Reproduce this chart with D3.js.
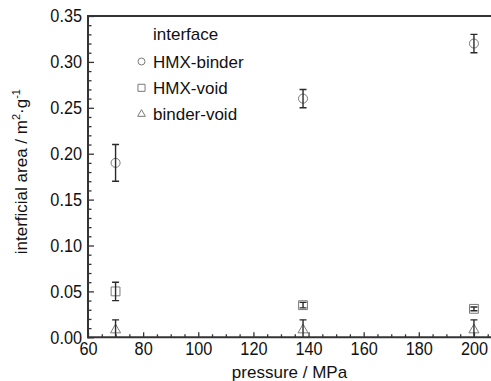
<!DOCTYPE html>
<html><head><meta charset="utf-8">
<script src="https://cdn.jsdelivr.net/npm/d3@7"></script>
<style>
html,body{margin:0;padding:0;background:#fff;}
svg{display:block;font-family:"Liberation Sans",Arial,sans-serif;}
</style></head>
<body><svg id="c" width="491" height="381"></svg>
<script>
// Data
const seriesNames = ["HMX-binder", "HMX-void", "binder-void"];
const pressures = [70, 138, 200];
const hmxBinder = [0.19, 0.26, 0.32];
const hmxBinderErr = [0.02, 0.01, 0.01];
const hmxVoid = [0.05, 0.035, 0.031];
const hmxVoidErr = [0.01, 0.003, 0.002];
const binderVoid = [0.008, 0.008, 0.008];
const binderVoidErr = [0.011, 0.011, 0.011];
const xTicks = [60, 80, 100, 120, 140, 160, 180, 200];
const yTicks = [0.00, 0.05, 0.10, 0.15, 0.20, 0.25, 0.30, 0.35];

const svg = d3.select("#c");
const L = 88, T = 16, B = 337.3, R = 496;
const x = d3.scaleLinear().domain([60, 208]).range([L, R]);
const y = d3.scaleLinear().domain([0, 0.35]).range([B, T]);
const axisColor = "#333";

const series = [
  {name: seriesNames[0], vals: hmxBinder, errs: hmxBinderErr, sym: d3.symbolCircle, size: 64, lsize: 38},
  {name: seriesNames[1], vals: hmxVoid, errs: hmxVoidErr, sym: d3.symbolSquare, size: 78, lsize: 50},
  {name: seriesNames[2], vals: binderVoid, errs: binderVoidErr, sym: d3.symbolTriangle, size: 44, lsize: 26}
];

// clip
svg.append("defs").append("clipPath").attr("id","clip")
  .append("rect").attr("x", L).attr("y", 0).attr("width", R - L).attr("height", B - 0);

const data = svg.append("g").attr("clip-path","url(#clip)");
series.forEach(s => {
  const pts = pressures.map((p,i) => ({p, v: s.vals[i], e: s.errs[i]}));
  const g = data.append("g");
  g.selectAll("path.m").data(pts).enter().append("path")
    .attr("transform", d => `translate(${x(d.p)},${y(d.v)})`)
    .attr("d", d3.symbol().type(s.sym).size(s.size))
    .attr("fill","none").attr("stroke","#7a7a7a").attr("stroke-width",1);
  const eb = g.selectAll("g.e").data(pts).enter().append("g")
    .attr("stroke","#2a2a2a").attr("stroke-width",1.4).attr("fill","none");
  eb.append("line").attr("x1", d=>x(d.p)).attr("x2", d=>x(d.p))
    .attr("y1", d=>y(d.v+d.e)).attr("y2", d=>y(d.v-d.e));
  eb.append("line").attr("x1", d=>x(d.p)-3.5).attr("x2", d=>x(d.p)+3.5)
    .attr("y1", d=>y(d.v+d.e)).attr("y2", d=>y(d.v+d.e));
  eb.append("line").attr("x1", d=>x(d.p)-3.5).attr("x2", d=>x(d.p)+3.5)
    .attr("y1", d=>y(d.v-d.e)).attr("y2", d=>y(d.v-d.e));
});

// axes
const yMinor = d3.range(0, 0.3501, 0.01).filter(v => Math.abs(Math.round(v*20) - v*20) > 1e-6);
const xMinor = d3.range(60, 208, 5).filter(v => v % 20 !== 0);

const gy = svg.append("g").attr("transform", `translate(${L},0)`);
gy.call(d3.axisLeft(y).tickValues(yTicks).tickFormat(d3.format(".2f"))
  .tickSizeInner(-6).tickSizeOuter(0).tickPadding(6));
gy.append("g").call(d3.axisLeft(y).tickValues(yMinor).tickFormat("").tickSizeInner(-3.5).tickSizeOuter(0))
  .select(".domain").remove();
gy.selectAll(".domain").remove();
gy.selectAll("line").attr("stroke", axisColor).attr("stroke-width", 1.3);
gy.selectAll("text").attr("fill","#111").style("font-size","18.5px")
  .attr("x", -6/0.88).attr("transform","scale(0.88,1)");

const gx = svg.append("g").attr("transform", `translate(0,${B})`);
gx.call(d3.axisBottom(x).tickValues(xTicks).tickFormat(d3.format("d"))
  .tickSizeInner(-5).tickSizeOuter(0).tickPadding(4));
gx.append("g").call(d3.axisBottom(x).tickValues(xMinor).tickFormat("").tickSizeInner(-3).tickSizeOuter(0))
  .select(".domain").remove();
gx.selectAll(".domain").remove();
gx.selectAll("line").attr("stroke", axisColor).attr("stroke-width", 1.3);
gx.selectAll(".tick").each(function(d){
  d3.select(this).select("text")
    .attr("transform", "scale(0.88,1)")
    .attr("dy", "0.71em");
});
gx.selectAll("text").attr("fill","#111").style("font-size","18.5px").attr("y", 5);

// spines
svg.append("line").attr("x1", L).attr("x2", L).attr("y1", T).attr("y2", B+1)
  .attr("stroke", axisColor).attr("stroke-width", 2);
svg.append("line").attr("x1", L-1).attr("x2", 491).attr("y1", B).attr("y2", B)
  .attr("stroke", axisColor).attr("stroke-width", 2);
svg.append("line").attr("x1", L-1).attr("x2", 491).attr("y1", T).attr("y2", T)
  .attr("stroke", axisColor).attr("stroke-width", 2);

// axis titles
svg.append("text").attr("x", (L + 491)/2).attr("y", 378).attr("text-anchor","middle")
  .style("font-size","17px").attr("fill","#111").text("pressure / MPa");
const yt = svg.append("text").attr("transform", `translate(27,${(T+B)/2 - 5}) rotate(-90)`)
  .attr("text-anchor","middle").style("font-size","17px").attr("fill","#111");
yt.append("tspan").text("interficial area / m");
yt.append("tspan").attr("dy", -7).style("font-size","11px").text("2");
yt.append("tspan").attr("dy", 7).text("·g");
yt.append("tspan").attr("dy", -7).style("font-size","11px").text("-1");

// legend
const lg = svg.append("g");
lg.append("text").attr("x", 153).attr("y", 40).style("font-size","17px").attr("fill","#111").text("interface");
series.forEach((s,i) => {
  const cy = 61.5 + i*26.3;
  lg.append("path").attr("transform", `translate(141.5,${cy})`)
    .attr("d", d3.symbol().type(s.sym).size(s.lsize))
    .attr("fill","none").attr("stroke","#7a7a7a").attr("stroke-width",1);
  lg.append("text").attr("x", 153).attr("y", cy + 6).style("font-size","17px").attr("fill","#111").text(s.name);
});
</script></body></html>
